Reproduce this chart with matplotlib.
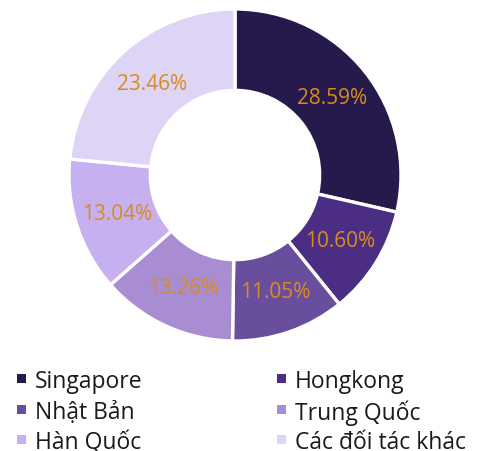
import matplotlib
matplotlib.use("Agg")
import matplotlib.pyplot as plt
from matplotlib.patches import Rectangle

plt.rcParams['font.family'] = ['Open Sans', 'Noto Sans', 'DejaVu Sans']

categories = ["Singapore", "Hongkong", "Nhật Bản", "Trung Quốc", "Hàn Quốc", "Các đối tác khác"]
values = [28.59, 10.60, 11.05, 13.26, 13.04, 23.46]
colors = ["#261A4C", "#4B2E83", "#6A4E9E", "#A98DD2", "#C6B0F0", "#DED4F5"]

W, H = 480, 452
fig = plt.figure(figsize=(W / 100, H / 100), dpi=100)
cx, cy, R = 235, 176, 166
ax = fig.add_axes([(cx - R) / W, (H - cy - R) / H, 2 * R / W, 2 * R / H])

wedges, texts, autotexts = ax.pie(
    values, colors=colors, startangle=90, counterclock=False,
    radius=1.0, autopct=lambda p: f"{p:.2f}%", pctdistance=0.745,
    wedgeprops=dict(width=0.49, edgecolor="white", linewidth=2.4),
    textprops=dict(color="#D88C1E", fontsize=15),
)
ax.set_xlim(-1, 1)
ax.set_ylim(-1, 1)
ax.set_aspect("equal")
ax.axis("off")

# legend, row-major in two columns
col_x = [17, 277]
row_y = [379, 410, 440]
sq = 9
for i, (lab, col) in enumerate(zip(categories, colors)):
    r, c = divmod(i, 2)
    x, y = col_x[c], row_y[r]
    fig.patches.append(Rectangle(((x) / W, (H - y - sq / 2) / H), sq / W, sq / H,
                                 transform=fig.transFigure, facecolor=col, edgecolor="none"))
    fig.text((x + sq + 9) / W, (H - y) / H, lab, fontsize=16.5, color="#1a1a1a",
             va="center_baseline", ha="left")

fig.savefig("out.png", dpi=100)
